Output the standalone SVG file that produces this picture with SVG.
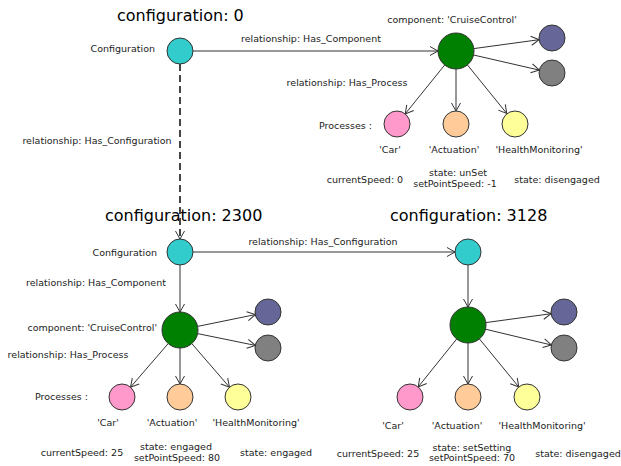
<svg xmlns="http://www.w3.org/2000/svg" width="621" height="466" viewBox="0 0 621 466">
<style>
text{font-family:"DejaVu Sans",sans-serif;fill:#222}
.t{font-size:16px;fill:#000}
.l{font-size:9.5px}
.m{text-anchor:middle}
.e{text-anchor:end}
circle{stroke:#333;stroke-width:1}
.cfg{fill:#33CCCC}.cmp{fill:#008000}.pu{fill:#666699}.gr{fill:#808080}
.pk{fill:#FF99CC}.or{fill:#FFCC99}.ye{fill:#FFFF99}
.c line{stroke:#333;stroke-width:1;marker-end:url(#a)}
.c line.d{stroke:#444;stroke-width:2;stroke-dasharray:7,4}
</style>
<defs>
<marker id="a" viewBox="-10 -6 12 12" refX="0" refY="0" markerWidth="12" markerHeight="12" markerUnits="userSpaceOnUse" orient="auto">
<path d="M-8,-4.5 L0,0 L-8,4.5" fill="none" stroke="#333" stroke-width="1"/>
</marker>
</defs>
<rect width="621" height="466" fill="#fff"/>
<text class="t" x="117" y="21">configuration: 0</text>
<text class="t" x="105" y="221">configuration: 2300</text>
<text class="t" x="390" y="221">configuration: 3128</text>
<g class="c" id="connectors">
<line x1="193" y1="51" x2="438" y2="51"/>
<line x1="473.8" y1="48.6" x2="539.1" y2="39.7"/>
<line x1="473.5" y1="55" x2="539.3" y2="70.1"/>
<line x1="444.7" y1="65" x2="405.2" y2="113.9"/>
<line x1="456" y1="69" x2="456" y2="111"/>
<line x1="467.4" y1="64.9" x2="506.8" y2="113.5"/>
<line class="d" x1="180" y1="64" x2="180" y2="239"/>
<line x1="180" y1="265" x2="180" y2="312"/>
<line x1="193" y1="252" x2="455" y2="252"/>
<line x1="197.6" y1="326.4" x2="255.3" y2="314.6"/>
<line x1="197.6" y1="333.6" x2="255.3" y2="345.4"/>
<line x1="168.2" y1="343.6" x2="130.5" y2="387.2"/>
<line x1="180" y1="348" x2="180" y2="384"/>
<line x1="191.8" y1="343.6" x2="229.5" y2="387.2"/>
<line x1="468" y1="265" x2="468" y2="307"/>
<line x1="485.8" y1="322.6" x2="551.1" y2="313.7"/>
<line x1="485.5" y1="329.2" x2="551.4" y2="345"/>
<line x1="456.7" y1="339" x2="418.2" y2="386.9"/>
<line x1="468" y1="343" x2="468" y2="384"/>
<line x1="479.4" y1="338.9" x2="518.8" y2="387"/>
</g>
<g id="edge-labels">
<text class="l m" x="311" y="42">relationship: Has_Component</text>
<text class="l m" x="347" y="86">relationship: Has_Process</text>
<text class="l m" x="97" y="144">relationship: Has_Configuration</text>
<text class="l m" x="323" y="245">relationship: Has_Configuration</text>
<text class="l m" x="96" y="286">relationship: Has_Component</text>
<text class="l m" x="68" y="358">relationship: Has_Process</text>
</g>
<g id="cfg0"><circle class="cfg" cx="180" cy="51" r="13"/><text class="l e" x="155" y="52">Configuration</text></g>
<g id="cmp0"><circle class="cmp" cx="456" cy="51" r="18"/><text class="l m" x="452" y="23">component: 'CruiseControl'</text></g>
<g id="pu0"><circle class="pu" cx="552" cy="38" r="13"/></g>
<g id="gr0"><circle class="gr" cx="552" cy="73" r="13"/></g>
<g id="car0"><circle class="pk" cx="397" cy="124" r="13"/><text class="l e" x="372" y="129">Processes :</text><text class="l m" x="390" y="153">'Car'</text><text class="l m" x="365" y="183">currentSpeed: 0</text></g>
<g id="act0"><circle class="or" cx="456" cy="124" r="13"/><text class="l m" x="454" y="153">'Actuation'</text><text class="l m" x="458" y="176">state: unSet</text><text class="l m" x="455" y="187">setPointSpeed: -1</text></g>
<g id="hm0"><circle class="ye" cx="515" cy="124" r="13"/><text class="l m" x="539" y="153">'HealthMonitoring'</text><text class="l m" x="557" y="183">state: disengaged</text></g>
<g id="cfg1"><circle class="cfg" cx="180" cy="252" r="13"/><text class="l e" x="157" y="256">Configuration</text></g>
<g id="cmp1"><circle class="cmp" cx="180" cy="330" r="18"/><text class="l e" x="157" y="331">component: 'CruiseControl'</text></g>
<g id="pu1"><circle class="pu" cx="268" cy="312" r="13"/></g>
<g id="gr1"><circle class="gr" cx="268" cy="348" r="13"/></g>
<g id="car1"><circle class="pk" cx="122" cy="397" r="13"/><text class="l e" x="88" y="400">Processes :</text><text class="l m" x="108" y="426">'Car'</text><text class="l m" x="82" y="456">currentSpeed: 25</text></g>
<g id="act1"><circle class="or" cx="180" cy="397" r="13"/><text class="l m" x="172" y="426">'Actuation'</text><text class="l m" x="176" y="450">state: engaged</text><text class="l m" x="177" y="461">setPointSpeed: 80</text></g>
<g id="hm1"><circle class="ye" cx="238" cy="397" r="13"/><text class="l m" x="256" y="426">'HealthMonitoring'</text><text class="l m" x="276" y="456">state: engaged</text></g>
<g id="cfg2"><circle class="cfg" cx="468" cy="252" r="13"/></g>
<g id="cmp2"><circle class="cmp" cx="468" cy="325" r="18"/></g>
<g id="pu2"><circle class="pu" cx="564" cy="312" r="13"/></g>
<g id="gr2"><circle class="gr" cx="564" cy="348" r="13"/></g>
<g id="car2"><circle class="pk" cx="410" cy="397" r="13"/><text class="l m" x="393" y="429">'Car'</text><text class="l m" x="378" y="457">currentSpeed: 25</text></g>
<g id="act2"><circle class="or" cx="468" cy="397" r="13"/><text class="l m" x="457" y="429">'Actuation'</text><text class="l m" x="472" y="451">state: setSetting</text><text class="l m" x="472" y="461">setPointSpeed: 70</text></g>
<g id="hm2"><circle class="ye" cx="527" cy="397" r="13"/><text class="l m" x="542" y="429">'HealthMonitoring'</text><text class="l m" x="578" y="457">state: disengaged</text></g>
</svg>
